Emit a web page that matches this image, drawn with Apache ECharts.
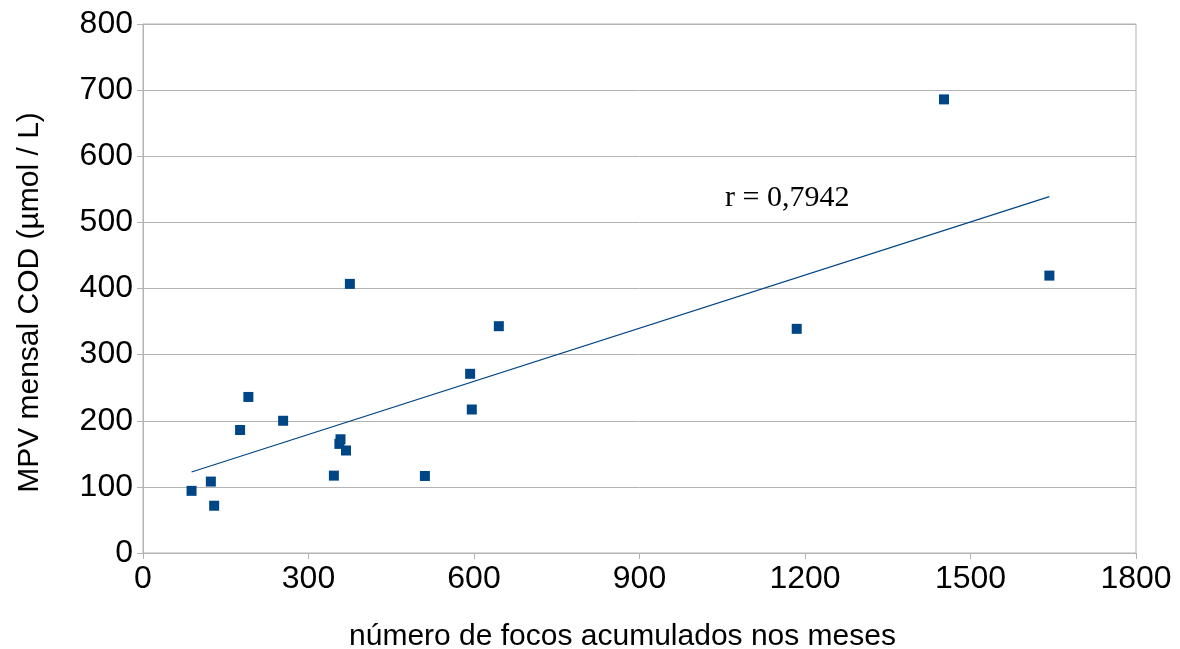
<!DOCTYPE html>
<html>
<head>
<meta charset="utf-8">
<script src="https://cdn.jsdelivr.net/npm/echarts@6/dist/echarts.min.js"></script>
<style>
html,body{margin:0;padding:0;background:#fff;}
#chart{width:1180px;height:649px;}
</style>
</head>
<body>
<div id="chart"></div>
<script>
// Data
const focos = [88, 123, 129, 176, 191, 254, 346, 356, 358, 368, 375, 511, 593, 596, 645, 1185, 1452, 1643];
const mpvCod = [94, 108, 71.5, 186, 236, 200, 117, 165, 172, 155, 407, 116.5, 271, 217, 343, 339, 686, 419.5];
const trendX = [88, 1643];
const trendY = [122.5, 539];
const xTicks = [0, 300, 600, 900, 1200, 1500, 1800];
const yTicks = [0, 100, 200, 300, 400, 500, 600, 700, 800];
const rLabel = 'r = 0,7942';
const xTitle = 'número de focos acumulados nos meses';
const yTitle = 'MPV mensal COD (µmol / L)';

const points = focos.map((x, i) => [x, mpvCod[i]]);
const trend = trendX.map((x, i) => [x, trendY[i]]);

const chart = echarts.init(document.getElementById('chart'), null, {renderer: 'canvas'});
const gridCol = '#b3b3b3';
chart.setOption({
  animation: false,
  backgroundColor: '#ffffff',
  grid: {left: 143, right: 44, top: 24, bottom: 96, containLabel: false, outerBoundsMode: 'none',
         show: true, borderColor: gridCol, borderWidth: 1, backgroundColor: 'transparent'},
  xAxis: {
    type: 'value', min: xTicks[0], max: xTicks[xTicks.length - 1], interval: 300,
    name: xTitle, nameLocation: 'middle', nameGap: 69,
    nameTextStyle: {fontFamily: 'Liberation Sans', fontSize: 30, color: '#000', padding: [0, 34, 0, 0]},
    axisLine: {show: true, lineStyle: {color: gridCol, width: 1}},
    axisTick: {show: true, length: 6, lineStyle: {color: gridCol}},
    axisLabel: {fontFamily: 'Liberation Sans', fontSize: 32, color: '#000', margin: 10,
                formatter: v => String(v)},
    splitLine: {show: false}
  },
  yAxis: {
    type: 'value', min: yTicks[0], max: yTicks[yTicks.length - 1], interval: 100,
    name: yTitle, nameLocation: 'middle', nameGap: 98, nameRotate: 90,
    nameTextStyle: {fontFamily: 'Liberation Sans', fontSize: 30, color: '#000', padding: [0, 28, 0, 0]},
    axisLine: {show: true, lineStyle: {color: gridCol, width: 1}},
    axisTick: {show: true, length: 6, lineStyle: {color: gridCol}},
    axisLabel: {fontFamily: 'Liberation Sans', fontSize: 32, color: '#000', margin: 10,
                formatter: v => String(v)},
    splitLine: {show: true, lineStyle: {color: gridCol, width: 1}}
  },
  series: [
    {
      type: 'line', data: trend, showSymbol: false, symbol: 'none',
      lineStyle: {color: '#004586', width: 1.2}, z: 2
    },
    {
      type: 'scatter', data: points, symbol: 'rect', symbolSize: 10,
      itemStyle: {color: '#004586', opacity: 1}, z: 3
    }
  ],
  graphic: [{
    type: 'text', left: 725, top: 183, z: 10,
    style: {text: rLabel, font: '30px "Liberation Serif"', fill: '#000'}
  }]
});
</script>
</body>
</html>
